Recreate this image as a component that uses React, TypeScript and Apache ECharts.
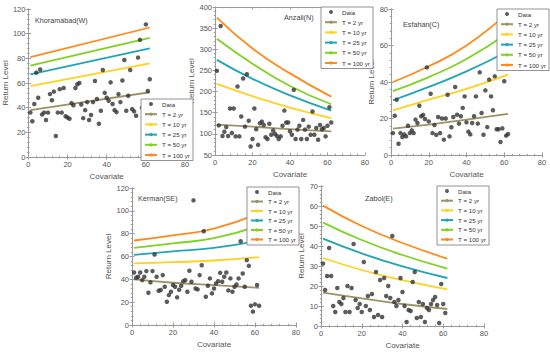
import React, { useEffect, useRef } from "react";
import * as echarts from "echarts";

// ---------- data ----------
const covariate = [1,2,3,4,5,6,7,8,9,10,11,12,13,14,15,16,17,18,19,20,21,22,23,24,25,26,27,28,29,30,31,32,33,34,35,36,37,38,39,40,41,42,43,44,45,46,47,48,49,50,51,52,53,54,55,56,57,58,59,60,61,62];
const xTicks = [0, 20, 40, 60, 80];
const seriesNames = ["T = 2 yr", "T = 10 yr", "T = 25 yr", "T = 50 yr", "T = 100 yr"];
const panelTitles = ["Khoramabad(W)", "Anzali(N)", "Esfahan(C)", "Kerman(SE)", "Zabol(E)"];

// Khoramabad(W)
const khoData = [36,29,43,68.4,48,71,34.5,36,30,36,51,46,53,17,36,55,36,56,33,32,31,43.7,42,56,59,60,42.6,31.5,38,44.5,30,34,44.5,61.6,47,27,37.5,70.6,52,48,45.6,60.5,43,38,36.4,51,44.5,62,78.7,37.5,49.7,70.6,38.8,37,33.4,80.6,95,40,36,107.5,53.5,63];
const khoLineX = [1, 62];
const khoT2 = [38, 52.5];
const khoT10 = [57.5, 76];
const khoT25 = [67, 88];
const khoT50 = [74, 96.5];
const khoT100 = [81, 105];

// Anzali(N)
const anzData = [249,120,355,95,105,116,95,160,102,160,94,212,94,141,231,117,241,131,70,88,160,111,74,125,129,121,92,88,124,98,108,100,95,88,94,119,155,127,127,106,98,204,88,110,119,88,133,110,88,117,98,153,98,114,86,121,111,114,94,119,163,127];
const anzLineX = [1, 20, 40, 62];
const anzT2 = [122, 117, 111, 106];
const anzT10 = [218, 189, 162, 137];
const anzT25 = [275, 230, 191, 155];
const anzT50 = [325, 266, 213, 170];
const anzT100 = [375, 302, 243, 188];

// Esfahan(C)
const esfData = [12,21.5,30.3,6.2,12,9.9,11.3,10.2,16,12,13.5,12,19.4,17.5,27,21.2,22,19.7,48,18.4,33.6,12,16.4,11,20.8,12,20,8.4,20,33,10.2,15.2,20.8,37.3,22.1,17.2,21.2,25.8,32.1,17.9,12.8,11.3,17.5,21.2,32.1,17.2,45.3,23,11.1,35.4,15.3,41.3,32.1,24.5,43.1,14.1,14.1,7.1,14.6,40.4,10.6,11.5];
const esfLineX = [1, 20, 40, 62];
const esfT2 = [14.5, 16.6, 19.4, 22.5];
const esfT10 = [24.5, 30.3, 36.2, 44];
const esfT25 = [30, 37.3, 45.8, 57];
const esfT50 = [35, 42.7, 52.6, 67];
const esfT100 = [40, 48.6, 60, 78];

// Kerman(SE)
const kerData = [46,41.4,42.2,46,39.3,42.2,47.2,28.3,37.3,47.2,61.8,42.2,30,30.6,43.7,33.5,20.4,26.2,29.1,35,33.5,24.2,30.9,34.4,38.4,39.3,29.1,47.5,37.9,109.2,32,31.2,43.7,52.4,82.1,24.8,34.4,40.8,27.7,32,36.4,38.4,45.7,37.9,42.2,46,30.3,40.8,29.1,33.5,35.5,40.8,73.4,45.1,33.5,56.8,51.8,16.9,11.7,18.1,35,16.9];
const kerLineX = [1, 20, 40, 62];
const kerT2 = [40, 37, 35, 32.5];
const kerT10 = [54, 55, 56.5, 59.5];
const kerT25 = [61.5, 64.5, 67.5, 74];
const kerT50 = [67.5, 71.5, 76, 87];
const kerT100 = [74, 78.5, 84.5, 98];

// Zabol(E)
const zabData = [31.2,18,25,39,25,10,7,19,12,11,14,7,20,7,19,41,13,9,11,7,32,10,15,8,16,4.5,27,5.5,23,4.5,24,15,20,14,45,12,10,13,24,17,10,2,8,7.5,22,27,4,12,4.5,11,2,9,8,11,13,14.5,10.5,1.5,21,11,6.5];
const zabLineX = [1, 20, 40, 62];
const zabT2 = [16.7, 13.8, 11, 8.5];
const zabT10 = [34, 28, 22.9, 18.3];
const zabT25 = [43.7, 36.3, 29.8, 24];
const zabT50 = [51.7, 43, 35.5, 28.7];
const zabT100 = [60.2, 50, 41.5, 33.7];

// y-axis ranges
const yMins = [0, 50, 0, 0, 0];
const yMaxs = [120, 400, 80, 120, 70];
const yIntervals = [20, 50, 20, 20, 10];

const panelData = [
  { pts: khoData, lx: khoLineX, lines: [khoT2, khoT10, khoT25, khoT50, khoT100] },
  { pts: anzData, lx: anzLineX, lines: [anzT2, anzT10, anzT25, anzT50, anzT100] },
  { pts: esfData, lx: esfLineX, lines: [esfT2, esfT10, esfT25, esfT50, esfT100] },
  { pts: kerData, lx: kerLineX, lines: [kerT2, kerT10, kerT25, kerT50, kerT100] },
  { pts: zabData, lx: zabLineX, lines: [zabT2, zabT10, zabT25, zabT50, zabT100] },
];

// ---------- layout / style ----------
const grids = [
  { left: 27, top: 9, width: 158, height: 148 },
  { left: 215, top: 7, width: 150, height: 148 },
  { left: 391, top: 9, width: 151, height: 146 },
  { left: 132, top: 188, width: 164, height: 137 },
  { left: 321, top: 186, width: 163, height: 140 },
];
const titlePos = [
  { left: 35, top: 17 },
  { left: 284, top: 14 },
  { left: 403, top: 21 },
  { left: 138, top: 195 },
  { left: 365, top: 195 },
];
const legendPos = [
  { left: 141, top: 99 },
  { left: 321, top: 7 },
  { left: 497, top: 9 },
  { left: 247, top: 187 },
  { left: 437, top: 186 },
];
const legendGaps = [2.2, 2.2, 2.2, 1.5, 1.7];
const yNameGaps = [14, 15, 12, 14, 13];
const lineColors = ["#9a9466", "#ffd21f", "#1fa6b5", "#7ed321", "#ff8a1c"];
const FONT = '"Liberation Sans", Arial, sans-serif';
const AXIS_C = "#9a9a9a";

function buildOption() {
  const xAxis: any[] = [];
  const yAxis: any[] = [];
  const series: any[] = [];
  const title: any[] = [];
  const legend: any[] = [];
  const tickBase = {
    axisLine: { show: true, lineStyle: { color: AXIS_C, width: 1 } },
    axisTick: { show: true, inside: true, length: 2.5, lineStyle: { color: AXIS_C } },
    minorTick: { show: true, splitNumber: 5, length: 1.2, lineStyle: { color: AXIS_C } },
    splitLine: { show: false },
  };
  for (let i = 0; i < 5; i++) {
    const common = { gridIndex: i, type: "value" as const };
    xAxis.push({
      ...common, ...tickBase, position: "bottom", min: 0, max: 80, interval: 20,
      name: "Covariate", nameLocation: "middle", nameGap: 15,
      nameTextStyle: { fontSize: 8, color: "#555", fontFamily: FONT },
      axisLabel: { fontSize: 7.5, color: "#555", margin: 3, fontFamily: FONT,
        formatter: (v: number) => (xTicks.includes(v) ? String(v) : "") },
    });
    xAxis.push({
      ...common, ...tickBase, position: "top", min: 0, max: 80, interval: 20,
      axisLabel: { show: false },
    });
    yAxis.push({
      ...common, ...tickBase, position: "left", min: yMins[i], max: yMaxs[i], interval: yIntervals[i],
      name: "Return Level", nameLocation: "middle", nameGap: yNameGaps[i],
      nameTextStyle: { fontSize: 8, color: "#555", fontFamily: FONT },
      axisLabel: { fontSize: 7.5, color: "#555", margin: 3, fontFamily: FONT },
    });
    yAxis.push({
      ...common, ...tickBase, position: "right", min: yMins[i], max: yMaxs[i], interval: yIntervals[i],
      axisLabel: { show: false },
    });
    const pd = panelData[i];
    series.push({
      name: "Data", type: "scatter", xAxisIndex: 2 * i, yAxisIndex: 2 * i,
      symbolSize: 4.5, itemStyle: { color: "#333333" }, z: 3,
      data: pd.pts.map((y, j) => [covariate[j], y]),
    });
    pd.lines.forEach((vals, k) => {
      series.push({
        name: seriesNames[k], type: "line", xAxisIndex: 2 * i, yAxisIndex: 2 * i,
        symbol: "none", smooth: true, color: lineColors[k],
        lineStyle: { width: 1.8, color: lineColors[k] },
        data: vals.map((y, j) => [pd.lx[j], y]), z: 2,
      });
    });
    title.push({
      text: panelTitles[i], ...titlePos[i], padding: 0,
      textStyle: { fontSize: 7.2, fontWeight: "normal", color: "#444", fontFamily: FONT },
    });
    legend.push({
      ...legendPos[i], orient: "vertical", itemWidth: 12, itemHeight: 4, itemGap: legendGaps[i],
      padding: [1, 3, 1.5, 3], borderColor: "#777", borderWidth: 0.8, backgroundColor: "#fff",
      textStyle: { fontSize: 6.2, color: "#333", lineHeight: 8, fontFamily: FONT },
      selectedMode: false, z: 10,
      data: [{ name: "Data", icon: "circle" }, ...seriesNames],
    });
  }
  return {
    animation: false,
    backgroundColor: "#fff",
    textStyle: { fontFamily: FONT },
    grid: grids.map((g) => ({ ...g, containLabel: false })),
    xAxis, yAxis, series, title, legend,
  };
}

export default function App() {
  const ref = useRef<HTMLDivElement>(null);
  useEffect(() => {
    if (!ref.current) return;
    const chart = echarts.init(ref.current, undefined, { renderer: "svg" });
    chart.setOption(buildOption() as any);
    return () => chart.dispose();
  }, []);
  return (
    <div
      ref={ref}
      style={{ position: "absolute", left: 0, top: 0, width: 550, height: 353, background: "#fff" }}
    />
  );
}
